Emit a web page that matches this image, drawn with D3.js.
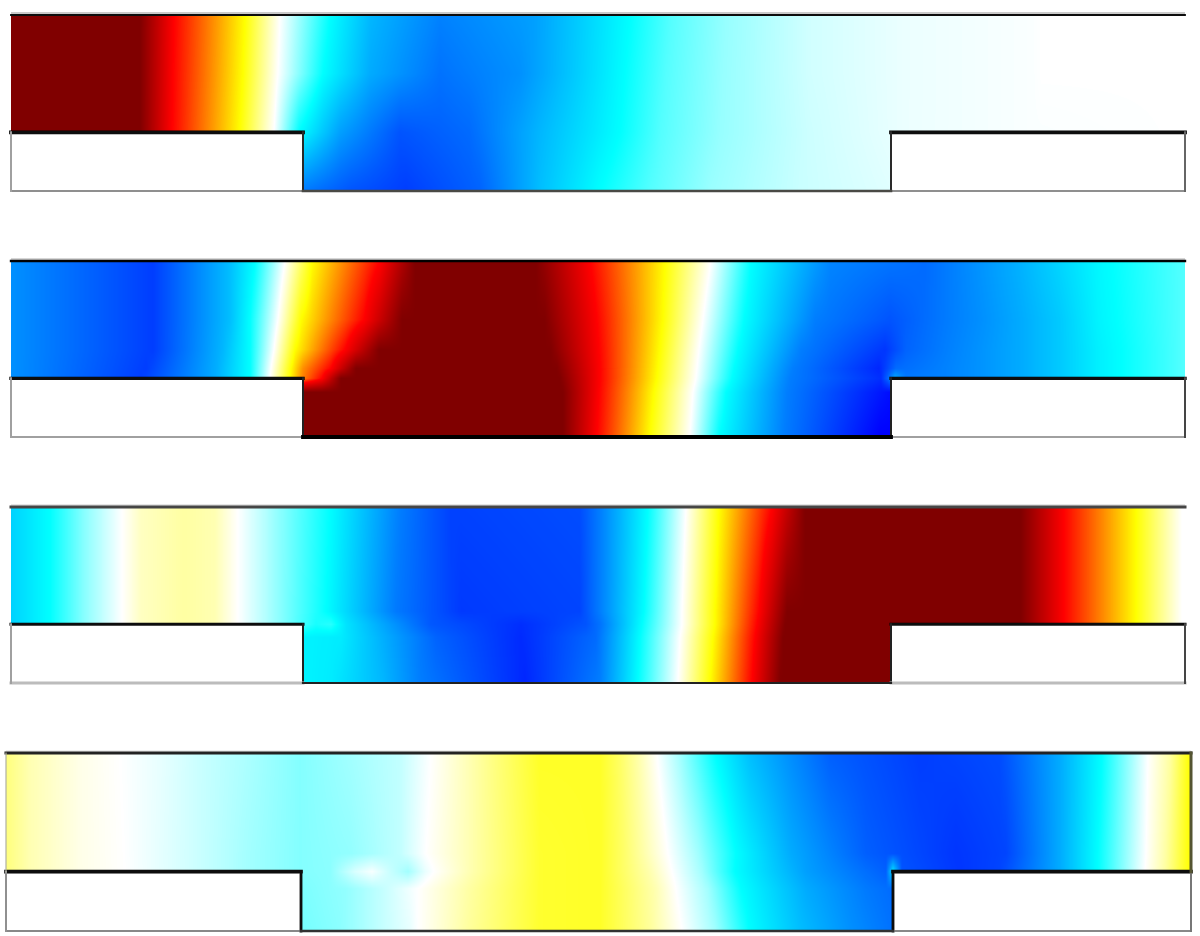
<!DOCTYPE html>
<html><head><meta charset="utf-8">
<script src="https://cdn.jsdelivr.net/npm/d3@7/dist/d3.min.js"></script>
<style>html,body{margin:0;padding:0;background:#fff}svg{display:block}</style>
</head><body><div id="chart"></div>
<script>
// Field colour scale: normalised field value -> colour
const colorValues = [-1, -0.33, 0, 0.33, 0.67, 1];
const colorStops  = ["#0000ff", "#00ffff", "#ffffff", "#ffff00", "#ff0000", "#800000"];

// Channel geometry, in channel length units
const stepStart = [292, 292, 292, 295];
const stepEnd   = [880, 880, 880, 887];
const channelLength = [1174, 1174, 1174, 1185];
const channelDepth = 177;
const stepDepth = 118;

// Field samples [x, value] along lines of constant depth
const p1Depths = [0, 59, 118, 177];
const p1a = [[0,1],[129,1],[163,.67],[234,.33],[269,0],[319,-.33],[360,-.52],[429,-.66],[524,-.58],[619,-.33],[660,-.22],[715,-.135],[799,-.06],[895,-.025],[1022,-.006],[1030,0],[1174,0]];
const p1b = [[0,1],[129,1],[162,.67],[232,.33],[267,0],[312,-.33],[359,-.55],[429,-.7],[509,-.62],[614,-.33],[655,-.22],[712,-.135],[799,-.06],[895,-.025],[1022,-.006],[1030,0],[1174,0]];
const p1c = [[0,1],[129,1],[161,.67],[229,.33],[263,0],[288,-.33],[329,-.58],[389,-.78],[459,-.72],[529,-.52],[609,-.33],[650,-.22],[709,-.135],[799,-.065],[894,-.025],[1022,-.006],[1174,0]];
const p1d = [[292,-.68],[340,-.78],[395,-.84],[469,-.74],[529,-.5],[589,-.33],[640,-.22],[700,-.13],[789,-.07],[880,-.04]];

const p2Depths = [0, 59, 89, 108, 118, 132, 177];
const p2a = [[0,-.62],[142,-.84],[219,-.5],[244,-.33],[274,0],[301,.33],[369,.67],[404,1],[525,1],[579,.67],[654,.33],[700,0],[740,-.33],[819,-.65],[914,-.72],[1010,-.53],[1087,-.35],[1174,-.22]];
const p2b = [[0,-.62],[142,-.84],[219,-.5],[239,-.33],[267,0],[290,.33],[353,.67],[391,1],[534,1],[586,.67],[652,.33],[692,0],[733,-.33],[804,-.67],[879,-.78],[934,-.68],[972,-.62],[1010,-.55],[1049,-.47],[1087,-.36],[1174,-.22]];
const p2c = [[0,-.62],[142,-.84],[212,-.52],[239,-.33],[263,0],[284,.33],[334,.67],[368,1],[540,1],[588,.67],[649,.33],[688,0],[727,-.33],[790,-.67],[874,-.86],[895,-.74],[934,-.67],[972,-.61],[1010,-.55],[1049,-.47],[1087,-.37],[1174,-.22]];
const p2d = [[0,-.62],[135,-.84],[206,-.54],[239,-.33],[260,0],[280,.33],[292,.48],[320,.67],[345,1],[546,1],[589,.67],[647,.33],[686,0],[723,-.33],[782,-.67],[868,-.9],[885,-.72],[934,-.66],[972,-.61],[1010,-.55],[1049,-.47],[1087,-.37],[1174,-.22]];
const p2e = [[0,-.62],[130,-.84],[204,-.55],[239,-.33],[259,0],[279,.33],[292,.5],[311,.67],[330,1],[549,1],[589,.67],[646,.33],[685,0],[721,-.33],[779,-.67],[870,-.88],[876,-.75],[884,-.55],[895,-.68],[934,-.66],[972,-.61],[1010,-.55],[1049,-.47],[1087,-.37],[1174,-.22]];
const p2f = [[292,1],[552,1],[588,.67],[643,.33],[682,0],[715,-.33],[776,-.67],[880,-.97]];
const p2g = [[292,1],[552,1],[586,.67],[639,.33],[679,0],[708,-.33],[773,-.67],[869,-1],[880,-1]];

const p3Depths = [0, 105, 118, 131, 177];
const p3a = [[0,-.45],[39,-.33],[74,-.15],[111,0],[130,.08],[173,.12],[204,.1],[227,0],[269,-.15],[319,-.33],[389,-.67],[440,-.83],[569,-.8],[589,-.67],[637,-.33],[675,0],[708,.33],[761,.67],[794,1],[1010,1],[1053,.67],[1125,.33],[1171,0],[1174,0]];
const p3b = [[0,-.45],[39,-.33],[74,-.15],[111,0],[130,.08],[173,.12],[204,.1],[227,0],[269,-.15],[315,-.33],[385,-.68],[450,-.85],[569,-.82],[589,-.67],[633,-.33],[671,0],[704,.33],[748,.67],[776,1],[1010,1],[1053,.67],[1125,.33],[1171,0],[1174,0]];
const p3c = [[0,-.45],[39,-.33],[74,-.15],[111,0],[130,.08],[173,.12],[204,.1],[227,0],[269,-.15],[305,-.3],[320,-.28],[335,-.4],[362,-.52],[420,-.77],[510,-.88],[575,-.78],[589,-.7],[631,-.33],[671,0],[704,.33],[746,.67],[774,1],[1010,1],[1053,.67],[1125,.33],[1171,0],[1174,0]];
const p3d = [[292,-.36],[330,-.38],[375,-.55],[425,-.74],[510,-.89],[585,-.72],[629,-.33],[669,0],[702,.33],[744,.67],[772,1],[880,1]];
const p3e = [[292,-.36],[320,-.38],[372,-.52],[409,-.67],[514,-.9],[589,-.67],[627,-.33],[667,0],[699,.33],[741,.67],[769,1],[880,1]];

const p4Depths = [0, 100, 118, 135, 177];
const p4a = [[0,.17],[24,.1],[74,.03],[114,0],[154,-.03],[194,-.07],[244,-.11],[294,-.16],[344,-.12],[394,-.08],[425,0],[464,.1],[494,.18],[534,.28],[594,.28],[614,.2],[634,.1],[651,0],[674,-.12],[709,-.33],[744,-.5],[824,-.75],[914,-.84],[994,-.8],[1054,-.55],[1096,-.33],[1142,0],[1164,.12],[1184,.33]];
const p4b = [[0,.17],[24,.1],[74,.03],[118,0],[194,-.07],[244,-.12],[294,-.16],[344,-.14],[394,-.08],[420,0],[464,.1],[534,.27],[594,.28],[617,.2],[640,.1],[662,0],[692,-.12],[730,-.33],[785,-.55],[860,-.75],[950,-.86],[1000,-.82],[1054,-.55],[1092,-.33],[1140,0],[1160,.12],[1184,.33]];
const p4c = [[0,.17],[24,.1],[74,.03],[119,0],[194,-.07],[244,-.12],[294,-.16],[324,-.15],[349,-.05],[366,-.01],[384,-.07],[402,-.12],[419,-.03],[428,0],[464,.1],[534,.27],[594,.28],[617,.2],[645,.1],[666,0],[696,-.12],[729,-.33],[800,-.58],[860,-.71],[880,-.75],[887,-.4],[896,-.78],[954,-.86],[994,-.82],[1054,-.55],[1092,-.33],[1139,0],[1159,.12],[1184,.33]];
const p4d = [[295,-.17],[340,-.14],[380,-.07],[412,0],[464,.12],[534,.27],[594,.28],[620,.2],[650,.1],[670,0],[702,-.12],[735,-.33],[800,-.55],[860,-.68],[887,-.72]];
const p4e = [[295,-.18],[334,-.15],[374,-.08],[404,-.03],[412,0],[464,.13],[534,.27],[594,.28],[644,.13],[676,0],[709,-.12],[743,-.33],[794,-.5],[844,-.62],[885,-.7]];

const fields = [[p1a,p1b,p1c,p1d],[p2a,p2b,p2c,p2d,p2e,p2f,p2g],[p3a,p3b,p3c,p3d,p3e],[p4a,p4b,p4c,p4d,p4e]];
const depths = [p1Depths,p2Depths,p3Depths,p4Depths];

// Layout and wall styles, per panel
const W = 1200, H = 936;
const frames = [
  {left:11, top:15,  height:176, halo:"#b8b8b8", wallTop:"#111", topW:1.8, stepW:3.8, riseW:2, rise:"#2a2a2a", floor:"#4a4a44", floorW:2.6, base:"#8f8f8f", baseW:2, side:"#a0a0a0", rightSide:"#666", channelSide:null},
  {left:11, top:261, height:176, halo:"#c8c8c8", wallTop:"#000", topW:2.4, stepW:3.4, riseW:2, rise:"#222", floor:"#000", floorW:3.8, base:"#a0a0a0", baseW:2, side:"#a0a0a0", rightSide:"#444", channelSide:null},
  {left:11, top:507, height:176, halo:"#dcdcdc", wallTop:"#444", topW:3, stepW:3, riseW:2, rise:"#222", floor:"#222", floorW:2.2, base:"#bcbcbc", baseW:3, side:"#a0a0a0", rightSide:"#444", channelSide:null},
  {left:6,  top:753, height:178, halo:"#e8e8e8", wallTop:"#222", topW:3, stepW:3.6, riseW:2.8, rise:"#111", floor:"#333", floorW:2.6, base:"#888", baseW:2, side:"#909090", rightSide:"#777", channelSide:"#555"}
];

const lut = (() => {
  const c = d3.scaleLinear().domain(colorValues).range(colorStops).interpolate(d3.interpolateRgb).clamp(true);
  return d3.range(0, 1025).map(i => d3.rgb(c(-1 + 2 * i / 1024)));
})();

const svg = d3.select("#chart").append("svg").attr("width", W).attr("height", H);
svg.append("rect").attr("width", W).attr("height", H).attr("fill", "#fff");
const defs = svg.append("defs");
defs.append("filter").attr("id", "soft").attr("x", "-1%").attr("y", "-1%").attr("width", "102%").attr("height", "102%")
  .append("feGaussianBlur").attr("stdDeviation", 0.35);

frames.forEach((f, pi) => {
  const L = channelLength[pi];
  const x = d3.scaleLinear().domain([0, L]).range([f.left, f.left + L]);
  const y = d3.scaleLinear().domain([0, channelDepth]).range([f.top, f.top + f.height]);
  const s1 = stepStart[pi], s2 = stepEnd[pi];

  const rowScales = fields[pi].map(r =>
    d3.scaleLinear().domain(r.map(d => d[0])).range(r.map(d => d[1])).clamp(true));
  const depth = depths[pi];

  const cw = Math.round(x(L) - x(0)), ch = Math.round(y(channelDepth) - y(0));
  const canvas = document.createElement("canvas");
  canvas.width = cw; canvas.height = ch;
  const ctx = canvas.getContext("2d");
  const img = ctx.createImageData(cw, ch);
  const rowVals = rowScales.map(s => d3.range(cw).map(i => s(x.invert(x(0) + i + 0.5))));
  for (let j = 0; j < ch; j++) {
    const d = y.invert(y(0) + j + 0.5);
    let k = d3.bisectRight(depth, d) - 1;
    k = Math.max(0, Math.min(depth.length - 2, k));
    const t = Math.max(0, Math.min(1, (d - depth[k]) / (depth[k + 1] - depth[k])));
    for (let i = 0; i < cw; i++) {
      const o = (j * cw + i) * 4;
      const ux = x.invert(x(0) + i + 0.5);
      if (d > stepDepth && (ux < s1 || ux > s2)) { img.data[o + 3] = 0; continue; }
      const v = rowVals[k][i] * (1 - t) + rowVals[k + 1][i] * t;
      const c = lut[Math.round((v + 1) / 2 * 1024)];
      img.data[o] = c.r; img.data[o + 1] = c.g; img.data[o + 2] = c.b; img.data[o + 3] = 255;
    }
  }
  ctx.putImageData(img, 0, 0);

  const g = svg.append("g").attr("class", "panel");
  g.append("image").attr("x", x(0)).attr("y", y(0)).attr("width", cw).attr("height", ch)
    .attr("href", canvas.toDataURL());

  const segs = [
    [0, 0, L, 0, f.wallTop, f.topW],
    [0, stepDepth, s1, stepDepth, "#0a0a0a", f.stepW],
    [s2, stepDepth, L, stepDepth, "#0a0a0a", f.stepW],
    [s1, stepDepth, s1, channelDepth, f.rise, f.riseW],
    [s2, stepDepth, s2, channelDepth, f.rise, f.riseW],
    [0, channelDepth, s1, channelDepth, f.base, f.baseW],
    [s2, channelDepth, L, channelDepth, f.base, f.baseW],
    [s1, channelDepth, s2, channelDepth, f.floor, f.floorW],
    [0, stepDepth, 0, channelDepth, f.side, 2],
    [L, stepDepth, L, channelDepth, f.rightSide, 2]
  ];
  if (f.channelSide) {
    segs.push([L, 0, L, stepDepth, "#555530", 3]);
    segs.push([0, 0, 0, stepDepth, "#b0b0a0", 1.2]);
  }
  const lineG = g.append("g").attr("filter", "url(#soft)");
  lineG.append("line").attr("x1", x(0)).attr("x2", x(L)).attr("y1", y(0) - 2).attr("y2", y(0) - 2)
    .attr("stroke", f.halo).attr("stroke-width", 1.6);
  lineG.selectAll("line.wall").data(segs).join("line").attr("class", "wall")
    .attr("x1", d => x(d[0])).attr("y1", d => y(d[1]))
    .attr("x2", d => x(d[2])).attr("y2", d => y(d[3]))
    .attr("stroke", d => d[4]).attr("stroke-width", d => d[5]).attr("stroke-linecap", "square");
});
</script></body></html>
